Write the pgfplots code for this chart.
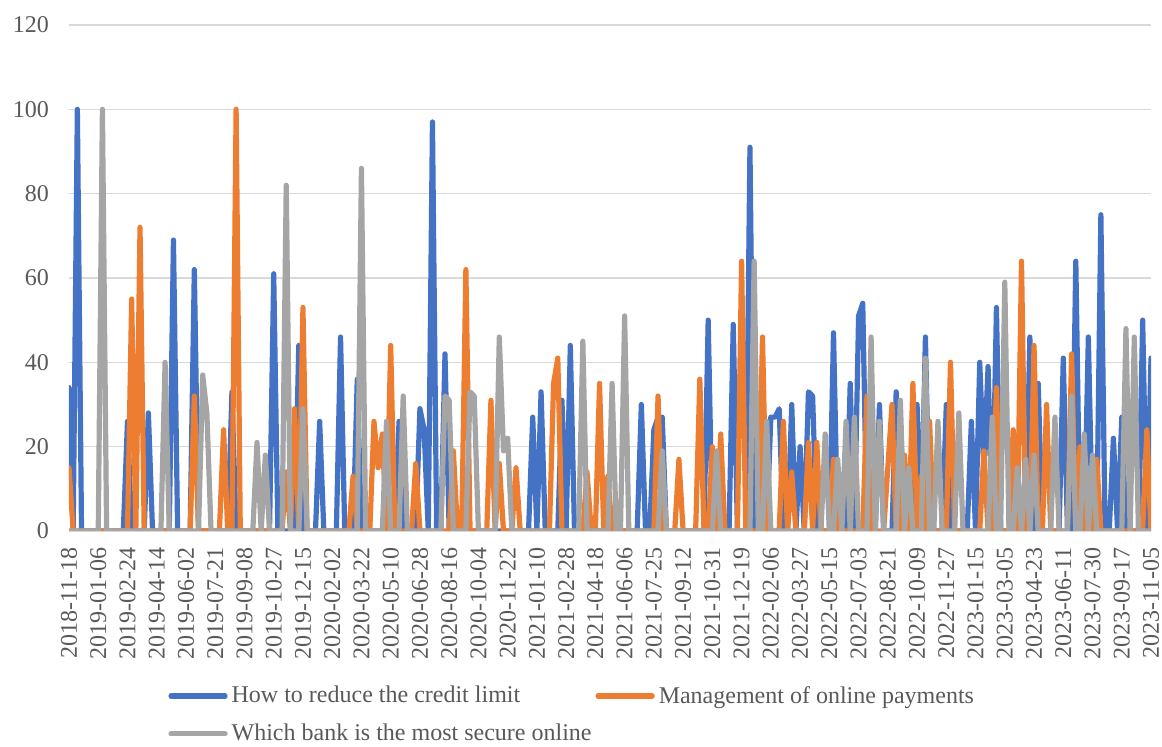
\documentclass[border=0pt]{standalone}
\usepackage{pgfplots}
\usepackage{pgfplotstable}
\usepackage{fontspec}
\setmainfont{Liberation Serif}
\pgfplotsset{compat=1.18}

\definecolor{sblue}{HTML}{4472C4}
\definecolor{sorange}{HTML}{ED7D31}
\definecolor{sgray}{HTML}{A5A5A5}
\definecolor{txt}{HTML}{595959}
\definecolor{gridc}{HTML}{D9D9D9}

% weekly search interest: i = week index from 2018-11-18
\pgfplotstableread[row sep=\\]{
i b o g\\
0 34 15 0\\ 1 0 0 0\\ 2 100 0 0\\ 3 0 0 0\\ 4 0 0 0\\ 5 0 0 0\\ 6 0 0 0\\ 7 0 0 0\\ 8 0 0 100\\ 9 0 0 0\\
10 0 0 0\\ 11 0 0 0\\ 12 0 0 0\\ 13 0 0 0\\ 14 26 0 0\\ 15 0 55 0\\ 16 0 0 0\\ 17 0 72 0\\ 18 0 0 0\\ 19 28 0 0\\
20 0 0 0\\ 21 0 0 0\\ 22 0 0 0\\ 23 0 0 40\\ 24 0 0 0\\ 25 69 0 0\\ 26 0 0 0\\ 27 0 0 0\\ 28 0 0 0\\ 29 0 0 0\\
30 62 32 0\\ 31 0 0 0\\ 32 0 0 37\\ 33 0 0 28\\ 34 0 0 0\\ 35 0 0 0\\ 36 0 0 0\\ 37 0 24 0\\ 38 0 0 0\\ 39 33 0 0\\
40 0 100 0\\ 41 0 0 0\\ 42 0 0 0\\ 43 0 0 0\\ 44 0 0 0\\ 45 0 0 21\\ 46 0 0 0\\ 47 0 0 18\\ 48 0 0 0\\ 49 61 0 0\\
50 0 0 0\\ 51 0 0 0\\ 52 0 14 82\\ 53 0 0 0\\ 54 0 29 0\\ 55 44 0 0\\ 56 0 53 29\\ 57 0 0 0\\ 58 0 0 0\\ 59 0 0 0\\
60 26 0 0\\ 61 0 0 0\\ 62 0 0 0\\ 63 0 0 0\\ 64 0 0 0\\ 65 46 0 0\\ 66 0 0 0\\ 67 0 0 0\\ 68 0 13 0\\ 69 36 0 0\\
70 0 0 86\\ 71 0 0 0\\ 72 0 0 0\\ 73 0 26 0\\ 74 0 15 0\\ 75 0 23 0\\ 76 0 0 26\\ 77 0 44 0\\ 78 0 0 0\\ 79 26 0 0\\
80 0 0 32\\ 81 0 0 0\\ 82 0 0 0\\ 83 0 16 0\\ 84 29 0 0\\ 85 24 0 0\\ 86 0 0 0\\ 87 97 0 0\\ 88 0 0 0\\ 89 0 0 0\\
90 42 0 32\\ 91 0 0 31\\ 92 0 19 0\\ 93 0 0 0\\ 94 0 0 0\\ 95 0 62 0\\ 96 0 0 33\\ 97 0 0 32\\ 98 0 0 0\\ 99 0 0 0\\
100 0 0 0\\ 101 0 31 0\\ 102 0 0 0\\ 103 0 16 46\\ 104 0 0 19\\ 105 0 0 22\\ 106 0 0 0\\ 107 0 15 0\\ 108 0 0 0\\ 109 0 0 0\\
110 0 0 0\\ 111 27 0 0\\ 112 0 0 0\\ 113 33 0 0\\ 114 0 0 0\\ 115 0 0 0\\ 116 0 35 0\\ 117 0 41 0\\ 118 31 0 0\\ 119 0 0 0\\
120 44 0 0\\ 121 0 0 0\\ 122 0 0 0\\ 123 0 0 45\\ 124 0 14 0\\ 125 0 0 0\\ 126 0 0 0\\ 127 0 35 0\\ 128 0 0 0\\ 129 0 13 0\\
130 0 0 35\\ 131 0 0 0\\ 132 0 0 0\\ 133 0 0 51\\ 134 0 0 0\\ 135 0 0 0\\ 136 0 0 0\\ 137 30 0 0\\ 138 0 0 0\\ 139 0 0 0\\
140 24 0 0\\ 141 27 32 0\\ 142 27 0 19\\ 143 0 0 0\\ 144 0 0 0\\ 145 0 0 0\\ 146 0 17 0\\ 147 0 0 0\\ 148 0 0 0\\ 149 0 0 0\\
150 0 0 0\\ 151 0 36 0\\ 152 0 0 0\\ 153 50 0 0\\ 154 0 20 0\\ 155 0 0 19\\ 156 0 23 0\\ 157 0 0 0\\ 158 0 0 0\\ 159 49 0 0\\
160 0 0 0\\ 161 0 64 0\\ 162 0 0 0\\ 163 91 0 0\\ 164 0 0 64\\ 165 0 0 0\\ 166 0 46 0\\ 167 0 0 26\\ 168 27 0 0\\ 169 27 0 0\\
170 29 0 0\\ 171 0 26 0\\ 172 0 0 0\\ 173 30 14 0\\ 174 0 0 0\\ 175 20 0 0\\ 176 0 0 0\\ 177 33 21 0\\ 178 32 0 0\\ 179 0 21 0\\
180 0 0 0\\ 181 0 0 23\\ 182 0 0 0\\ 183 47 17 0\\ 184 0 0 17\\ 185 0 0 0\\ 186 0 0 26\\ 187 35 0 0\\ 188 0 0 27\\ 189 51 0 0\\
190 54 0 0\\ 191 0 32 0\\ 192 0 0 46\\ 193 0 0 0\\ 194 30 0 26\\ 195 0 0 0\\ 196 0 15 0\\ 197 0 30 0\\ 198 33 0 0\\ 199 0 0 31\\
200 0 18 0\\ 201 0 0 15\\ 202 0 35 0\\ 203 30 0 0\\ 204 0 13 0\\ 205 46 0 41\\ 206 0 26 0\\ 207 0 0 0\\ 208 0 0 26\\ 209 0 0 0\\
210 30 0 0\\ 211 0 40 0\\ 212 0 0 0\\ 213 0 0 28\\ 214 0 0 0\\ 215 0 0 0\\ 216 26 0 0\\ 217 0 0 0\\ 218 40 0 0\\ 219 15 19 0\\
220 39 0 0\\ 221 0 0 27\\ 222 53 34 0\\ 223 0 0 0\\ 224 0 0 59\\ 225 0 0 0\\ 226 0 24 0\\ 227 0 0 15\\ 228 0 64 0\\ 229 0 0 17\\
230 46 0 0\\ 231 0 44 18\\ 232 35 0 0\\ 233 0 0 0\\ 234 0 30 0\\ 235 0 0 0\\ 236 0 0 27\\ 237 0 0 0\\ 238 41 0 0\\ 239 0 0 0\\
240 0 42 32\\ 241 64 0 0\\ 242 0 20 0\\ 243 0 0 23\\ 244 46 0 0\\ 245 0 0 18\\ 246 0 17 0\\ 247 75 0 0\\ 248 0 0 0\\ 249 0 0 0\\
250 22 0 0\\ 251 0 0 0\\ 252 27 0 0\\ 253 0 0 48\\ 254 0 0 0\\ 255 0 0 46\\ 256 0 0 0\\ 257 50 0 0\\ 258 0 24 0\\ 259 41 0 0\\
}\searchdata

\begin{document}
\begin{tikzpicture}
\begin{axis}[
  scale only axis,
  width=541pt, height=253pt,
  xmin=0, xmax=259, ymin=0, ymax=120,
  ytick={0,20,...,120},
  xtick={0,7,...,259},
  xticklabels={2018-11-18,2019-01-06,2019-02-24,2019-04-14,2019-06-02,2019-07-21,2019-09-08,2019-10-27,2019-12-15,2020-02-02,2020-03-22,2020-05-10,2020-06-28,2020-08-16,2020-10-04,2020-11-22,2021-01-10,2021-02-28,2021-04-18,2021-06-06,2021-07-25,2021-09-12,2021-10-31,2021-12-19,2022-02-06,2022-03-27,2022-05-15,2022-07-03,2022-08-21,2022-10-09,2022-11-27,2023-01-15,2023-03-05,2023-04-23,2023-06-11,2023-07-30,2023-09-17,2023-11-05},
  axis x line=bottom, axis y line=left,
  x axis line style={draw=gridc, line width=0.6pt, -},
  y axis line style={draw=none},
  major tick length=0pt,
  ymajorgrids, grid style={draw=gridc, line width=0.6pt},
  /pgf/number format/assume math mode=true,
  tick label style={font=\fontsize{12}{14}\selectfont, text=txt},
  yticklabel style={xshift=-6.5pt},
  xticklabel style={rotate=90, anchor=east, inner sep=0pt},
  xticklabel shift=8pt,
  legend columns=2,
  legend cell align=left,
  legend style={at={(0.086,-0.29)}, anchor=north west, draw=none, fill=none,
    font=\fontsize{12}{14}\selectfont, text=txt, row sep=5pt,
    /tikz/every even column/.append style={column sep=0pt}},
  legend image code/.code={\draw[#1, line width=2.6pt] (0pt,0pt) -- (27pt,0pt);},
  every axis plot/.append style={line width=2.6pt, line join=round, line cap=round},
]
\addplot[sblue] table[x=i, y=b] {\searchdata};
\addlegendentry{How to reduce the credit limit}
\addplot[sorange] table[x=i, y=o] {\searchdata};
\addlegendentry{Management of online payments}
\addplot[sgray] table[x=i, y=g] {\searchdata};
\addlegendentry{Which bank is the most secure online}
\end{axis}
\pgfresetboundingbox
\path[use as bounding box] (current axis.south west) ++(-34.5pt,-108pt) rectangle ([xshift=5.5pt, yshift=12.5pt]current axis.north east);
\end{tikzpicture}
\end{document}
